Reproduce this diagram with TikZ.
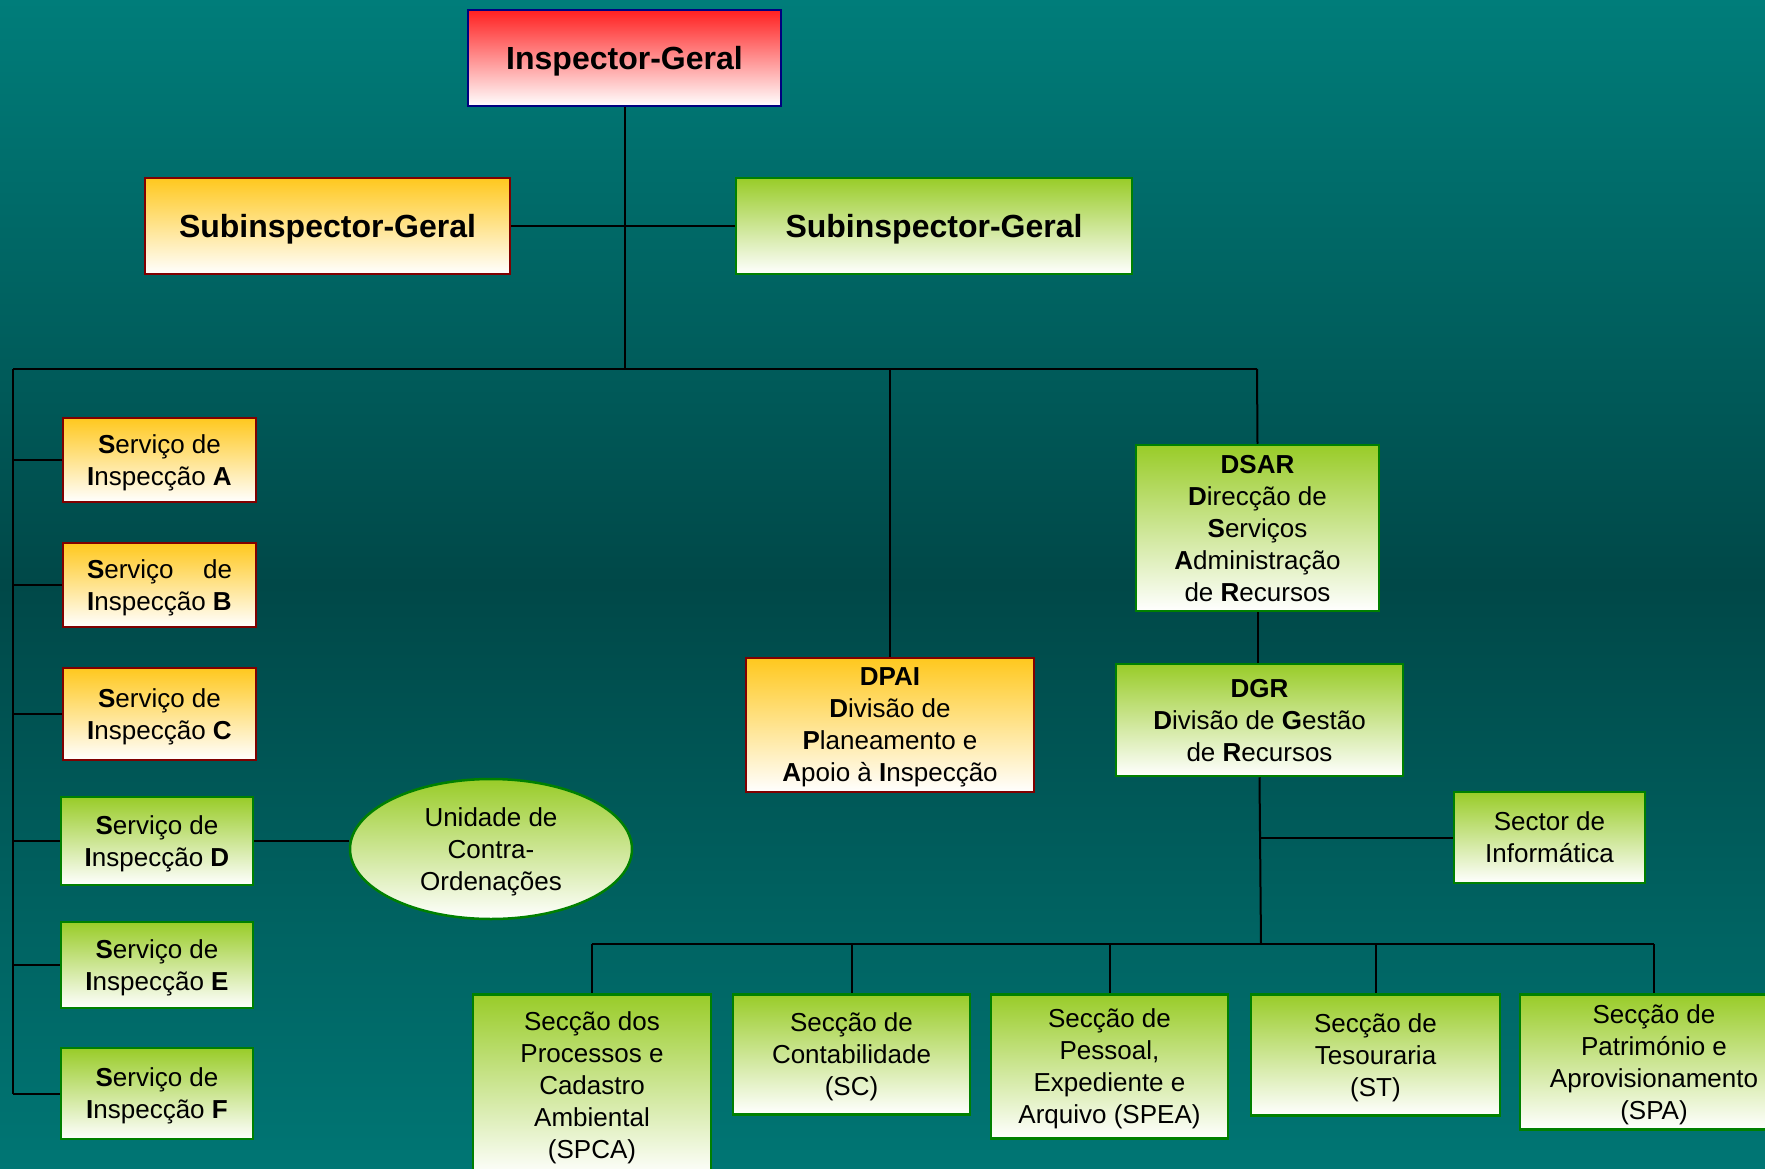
\documentclass[tikz,border=0pt]{standalone}
\usepackage{fontspec}
\setmainfont{Liberation Sans}
\usetikzlibrary{shapes.geometric}

\definecolor{bgtop}{RGB}{0,125,122}
\definecolor{bgmid}{RGB}{0,72,72}
\definecolor{bgbot}{RGB}{0,118,116}
\definecolor{redtop}{RGB}{255,32,32}
\definecolor{orgtop}{RGB}{255,200,30}
\definecolor{grntop}{RGB}{153,204,40}
\definecolor{navyline}{RGB}{0,0,128}
\definecolor{redline}{RGB}{128,0,0}
\definecolor{grnline}{RGB}{0,128,0}

\tikzset{
  box/.style={draw, line width=2.5pt, inner sep=0pt, align=center,
    font=\fontsize{26}{32}\selectfont, bottom color=white, text depth=-2pt},
  igbox/.style={box, draw=navyline, top color=redtop},
  orgbox/.style={box, draw=redline, top color=orgtop},
  grnbox/.style={box, draw=grnline, top color=grntop},
  bigtxt/.style={font=\fontsize{32}{38}\selectfont\bfseries, text depth=0pt},
  link/.style={line width=2pt, black}
}

\begin{document}
\begin{tikzpicture}[x=1pt, y=-1pt]
    \useasboundingbox (0,0) rectangle (1765,1169);
    \fill[top color=bgtop, bottom color=bgbot, middle color=bgmid] (0,0) rectangle (1765,1169);

    % top
    \node[igbox, bigtxt, minimum width=313pt, minimum height=96pt] (ig) at (624.5,58) {Inspector-Geral};
    \node[orgbox, bigtxt, minimum width=365pt, minimum height=96pt] (subl) at (327.5,226) {Subinspector-Geral};
    \node[grnbox, bigtxt, minimum width=396pt, minimum height=96pt] (subr) at (934,226) {Subinspector-Geral};

    \coordinate (busl) at (13,369);
    \coordinate (busr) at (1257,369);
    \coordinate (bus2) at (1261,944);

    % inspection services
    \node[orgbox, minimum width=193pt, minimum height=84pt] (sa) at (159.5,460) {\textbf{S}erviço de\\\textbf{I}nspecção \textbf{A}};
    \node[orgbox, minimum width=193pt, minimum height=84pt] (sb) at (159.5,585) {\makebox[145pt][s]{\textbf{S}erviço de}\\\textbf{I}nspecção \textbf{B}};
    \node[orgbox, minimum width=193pt, minimum height=92pt] (sc) at (159.5,714) {\textbf{S}erviço de\\\textbf{I}nspecção \textbf{C}};
    \node[grnbox, minimum width=192pt, minimum height=88pt] (sd) at (157,841) {\textbf{S}erviço de\\\textbf{I}nspecção \textbf{D}};
    \node[grnbox, minimum width=192pt, minimum height=86pt] (se) at (157,965) {\textbf{S}erviço de\\\textbf{I}nspecção \textbf{E}};
    \node[grnbox, minimum width=192pt, minimum height=91pt] (sf) at (157,1093.5) {\textbf{S}erviço de\\\textbf{I}nspecção \textbf{F}};
    \node[grnbox, ellipse, minimum width=282pt, minimum height=140pt] (uco) at (491,849) {Unidade de\\Contra-\\Ordenações};

    % divisions
    \node[orgbox, minimum width=288pt, minimum height=134pt] (dpai) at (890,725) {\textbf{DPAI}\\\textbf{D}ivisão de\\\textbf{P}laneamento e\\\textbf{A}poio à \textbf{I}nspecção};
    \node[grnbox, minimum width=243pt, minimum height=166pt] (dsar) at (1257.5,528) {\textbf{DSAR}\\\textbf{D}irecção de\\\textbf{S}erviços\\\textbf{A}dministração\\de \textbf{R}ecursos};
    \node[grnbox, minimum width=287pt, minimum height=112pt] (dgr) at (1259.5,720) {\textbf{DGR}\\\textbf{D}ivisão de \textbf{G}estão\\de \textbf{R}ecursos};
    \node[grnbox, minimum width=191pt, minimum height=91pt] (sinf) at (1549.5,837.5) {Sector de\\Informática};

    % sections
    \node[grnbox, anchor=north, minimum width=238pt, minimum height=182pt] (spca) at (592,993) {Secção dos\\Processos e\\Cadastro\\Ambiental\\(SPCA)};
    \node[grnbox, anchor=north, minimum width=237pt, minimum height=120pt] (scont) at (851.5,993) {Secção de\\Contabilidade\\(SC)};
    \node[grnbox, anchor=north, minimum width=237pt, minimum height=144pt] (spea) at (1109.5,993) {Secção de\\Pessoal,\\Expediente e\\Arquivo (SPEA)};
    \node[grnbox, anchor=north, minimum width=249pt, minimum height=121pt] (st) at (1375.5,993) {Secção de\\Tesouraria\\(ST)};
    \node[grnbox, anchor=north, minimum width=268pt, minimum height=135pt] (spa) at (1654,993) {Secção de\\Património e\\Aprovisionamento\\(SPA)};

    % connectors
    \draw[link] (ig.south) -- (ig.south |- busl);
    \draw[link] (subl.east) -- (subr.west);
    \draw[link] (busl) -- (busr);
    \draw[link] (busl) -- (busl |- sf.west);
    \foreach \n in {sa,sb,sc,sd,se,sf}
        \draw[link] (busl |- \n.west) -- (\n.west);
    \draw[link] (sd.east) -- (sd.east -| uco.west);
    \draw[link] (dpai.north |- busl) -- (dpai.north);
    \draw[link] (busr) -- (dsar.north);
    \draw[link] (dsar.south) -- (dsar.south |- dgr.north);
    \draw[link] (dgr.south) -- (bus2);
    \draw[link] (dgr.south |- sinf.west) -- (sinf.west);
    \draw[link] (spca.north |- bus2) -- (spa.north |- bus2);
    \foreach \n in {spca,scont,spea,st,spa}
        \draw[link] (\n.north |- bus2) -- (\n.north);
\end{tikzpicture}
\end{document}
